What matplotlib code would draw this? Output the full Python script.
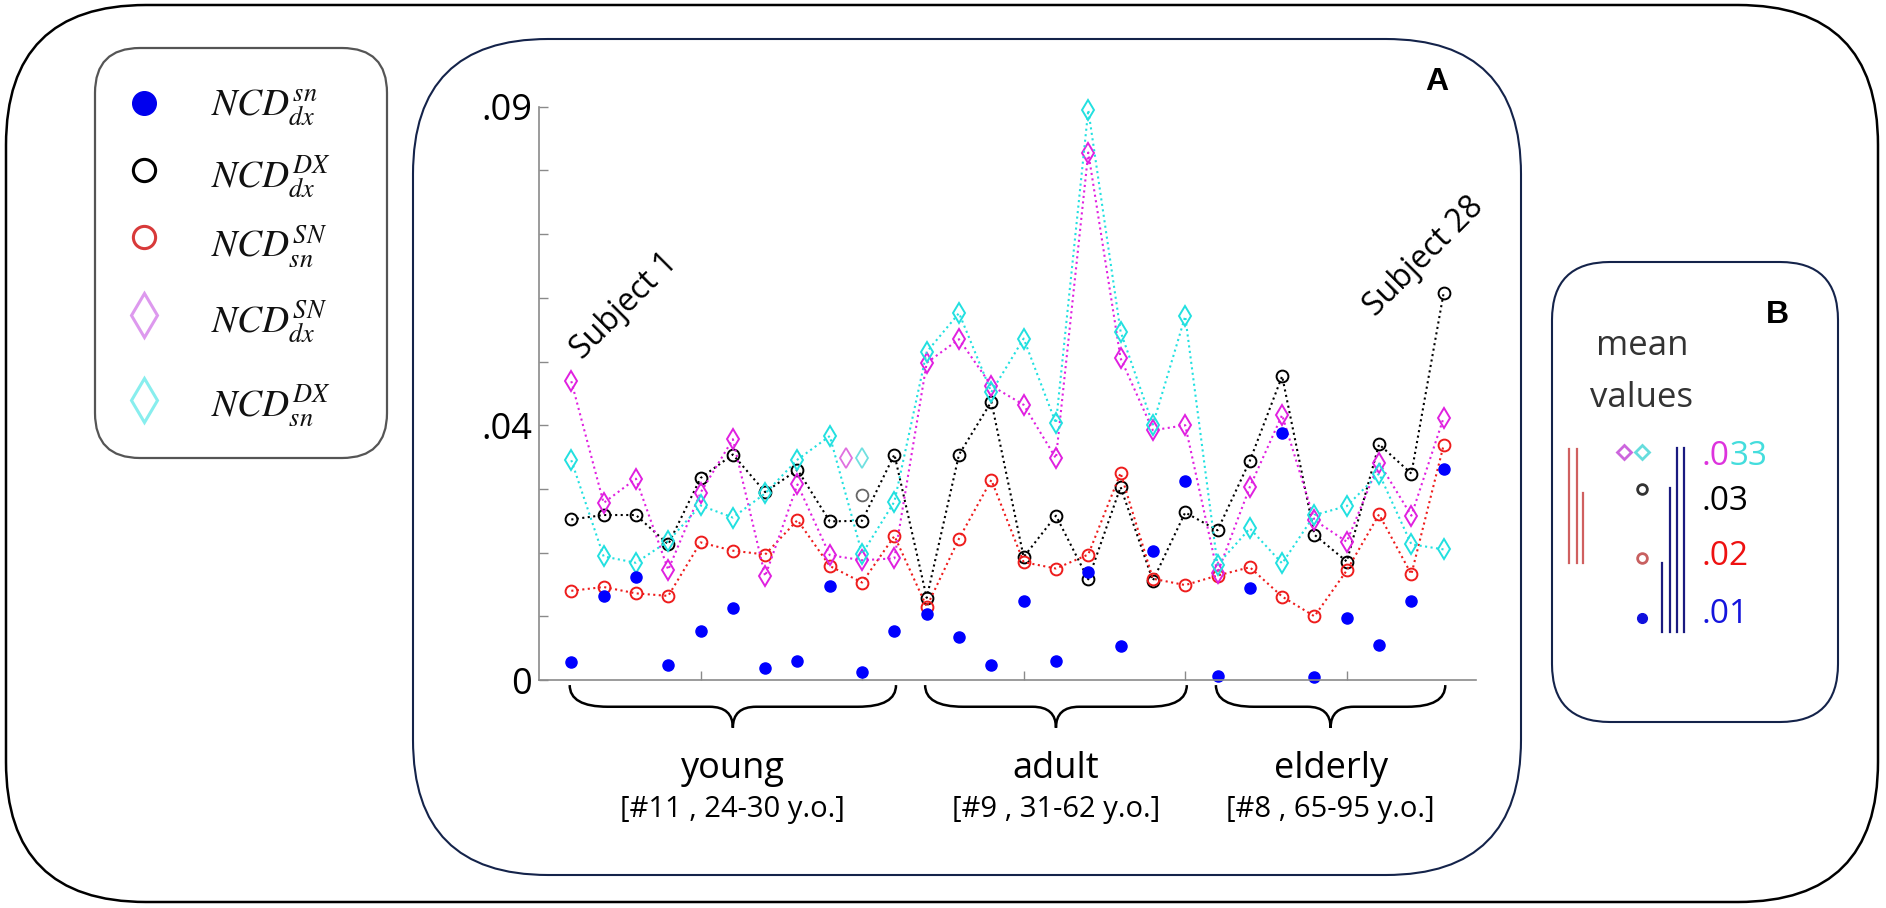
import numpy as np
import matplotlib
matplotlib.use('Agg')
import matplotlib.pyplot as plt
from matplotlib.patches import FancyBboxPatch, PathPatch
from matplotlib.path import Path

plt.rcParams['font.family'] = ['Open Sans', 'DejaVu Sans']
plt.rcParams['mathtext.fontset'] = 'stix'

# ---- data ----
subjects = np.arange(1, 29)
ncd_dx_sn = [.0029, .0132, .0161, .0023, .0077, .0113, .0019, .0030, .0147, .0013, .0077,
             .0104, .0068, .0024, .0124, .0030, .0169, .0054, .0203, .0313,
             .0007, .0144, .0388, .0004, .0097, .0055, .0124, .0332]
ncd_dx_DX = [.0252, .0259, .0259, .0213, .0317, .0354, .0295, .0330, .0249, .0250, .0354,
             .0129, .0354, .0437, .0193, .0258, .0158, .0303, .0156, .0263,
             .0235, .0344, .0477, .0228, .0186, .0370, .0324, .0608]
ncd_sn_SN = [.0140, .0146, .0136, .0132, .0216, .0203, .0197, .0251, .0179, .0153, .0226,
             .0115, .0222, .0314, .0185, .0175, .0197, .0325, .0159, .0149,
             .0164, .0177, .0131, .0100, .0172, .0260, .0166, .0369]
ncd_dx_SN = [.0469, .0278, .0316, .0173, .0294, .0378, .0163, .0307, .0196, .0188, .0191,
             .0498, .0535, .0462, .0432, .0348, .0828, .0505, .0392, .0400,
             .0168, .0303, .0416, .0251, .0217, .0341, .0258, .0412]
ncd_sn_DX = [.0345, .0194, .0184, .0218, .0274, .0255, .0293, .0346, .0383, .0198, .0280,
             .0515, .0576, .0452, .0536, .0403, .0895, .0547, .0401, .0571,
             .0181, .0238, .0183, .0259, .0273, .0324, .0213, .0205]

# stray markers near subject 10
stray_x = [9.5, 10, 10]
stray_y = [.0348, .0348, .0291]

groups = ['young', 'adult', 'elderly']
group_info = ['[#11 , 24-30 y.o.]', '[#9 , 31-62 y.o.]', '[#8 , 65-95 y.o.]']
group_first = [1, 12, 21]
group_last = [11, 20, 28]

legend_labels = [r'$NCD_{dx}^{sn}$', r'$NCD_{dx}^{DX}$', r'$NCD_{sn}^{SN}$',
                 r'$NCD_{dx}^{SN}$', r'$NCD_{sn}^{DX}$']

mean_labels = ['.03', '.02', '.01']
mean_colors = ['black', '#ee1111', '#1515dd']

# ---- figure ----
W, H = 1886, 908
fig = plt.figure(figsize=(W / 100, H / 100), dpi=100)
fig.patch.set_facecolor('white')

ov = fig.add_axes([0, 0, 1, 1], zorder=0)
ov.set_xlim(0, W)
ov.set_ylim(H, 0)
ov.axis('off')


def box(x0, y0, x1, y1, r, color, lw):
    ov.add_patch(FancyBboxPatch((x0, y0), x1 - x0, y1 - y0,
                                boxstyle='round,pad=0,rounding_size=%d' % r,
                                fc='none', ec=color, lw=lw))


box(6, 5, 1878, 902, 140, 'black', 1.8)        # outer frame
box(95, 48, 387, 458, 45, '#555555', 1.6)      # legend
box(413, 39, 1521, 875, 135, '#14234a', 1.5)   # panel A
box(1552, 262, 1838, 722, 58, '#14234a', 1.5)  # panel B

# legend
leg_y = [103, 170, 237, 315, 400]
leg_base = [116, 188, 257, 333, 417]
ov.plot(144, leg_y[0], 'o', ms=17, color='#0000ee', mec='#0000ee')
ov.plot(144, leg_y[1], 'o', ms=16, mfc='none', mec='black', mew=2.2)
ov.plot(144, leg_y[2], 'o', ms=16, mfc='none', mec='#d83a3a', mew=2.2)
ov.plot(144, leg_y[3], 'd', ms=22, mfc='none', mec='#dd99ee', mew=2.2)
ov.plot(144, leg_y[4], 'd', ms=22, mfc='none', mec='#88eeee', mew=2.2)
for lab, yb in zip(legend_labels, leg_base):
    ov.text(211, yb, lab, fontsize=27, color='#111111', ha='left', va='baseline')

# panel labels
ov.text(1437, 82, 'A', fontsize=23, fontweight='bold', family='Liberation Sans',
        ha='center', va='center')
ov.text(1777, 315, 'B', fontsize=23, fontweight='bold', family='Liberation Sans',
        ha='center', va='center')

# panel B content
ov.text(1642, 355, 'mean', fontsize=25, color='#333333', ha='center', va='baseline')
ov.text(1642, 407, 'values', fontsize=25, color='#333333', ha='center', va='baseline')
for xx, top in zip([1569, 1577, 1583], [449, 449, 493]):
    ov.plot([xx, xx], [563, top], color='#d06060', lw=1.6)
for xx, top in zip([1662, 1670, 1677, 1684], [563, 488, 448, 448]):
    ov.plot([xx, xx], [632, top], color='#1a1a80', lw=1.6)
ov.plot(1624, 452, 'D', ms=7.5, mfc='none', mec='#cc66dd', mew=2)
ov.plot(1642, 452, 'D', ms=7.5, mfc='none', mec='#66dddd', mew=2)
ov.plot(1642, 489, 'o', ms=7, mfc='none', mec='#333333', mew=2)
ov.plot(1642, 558, 'o', ms=7, mfc='none', mec='#c86060', mew=2)
ov.plot(1642, 618, 'o', ms=7, color='#1010dd')

t1 = ov.text(1702, 465, '.0', fontsize=24, color='#dd33dd', ha='left', va='baseline')
fig.canvas.draw()
bb = t1.get_window_extent()
ov.text(1702 + bb.width, 465, '33', fontsize=24, color='#44dddd', ha='left', va='baseline')
for lab, col, yb in zip(mean_labels, mean_colors, [510, 565, 623]):
    ov.text(1702, yb, lab, fontsize=24, color=col, ha='left', va='baseline')

# ---- main axes ----
ax = fig.add_axes([539 / W, 1 - 680 / H, (1476 - 539) / W, (680 - 106.7) / H], zorder=1)
ax.patch.set_alpha(0)

line_kw = dict(ls=':', lw=1.5, mfc='none', mew=1.4, clip_on=False)
ax.plot(subjects, ncd_dx_DX, marker='o', ms=8.5, color='black', **line_kw)
ax.plot(subjects, ncd_sn_SN, marker='o', ms=8.5, color='#ee1c1c', **line_kw)
ax.plot(subjects, ncd_dx_SN, marker='d', ms=10, color='#e020e0', **line_kw)
ax.plot(subjects, ncd_sn_DX, marker='d', ms=10, color='#22e0e0', **line_kw)
ax.plot(subjects, ncd_dx_sn, 'o', ms=8, color='#0000ff', clip_on=False)
ax.plot(stray_x[0], stray_y[0], 'd', ms=10, mfc='none', mec='#e070e0', mew=1.3)
ax.plot(stray_x[1], stray_y[1], 'd', ms=10, mfc='none', mec='#70e0e0', mew=1.3)
ax.plot(stray_x[2], stray_y[2], 'o', ms=8.5, mfc='none', mec='#666666', mew=1.3)

ax.set_xlim(0, 29)
ax.set_ylim(0, 0.09)
for s in ['top', 'right']:
    ax.spines[s].set_visible(False)
for s in ['left', 'bottom']:
    ax.spines[s].set_color('#8a8a8a')
    ax.spines[s].set_linewidth(1.2)
ax.set_xticks([5, 10, 15, 20, 25])
ax.set_xticklabels([])
yt = np.round(np.arange(0, 0.0901, 0.01), 2)
ax.set_yticks(yt)
ax.set_yticklabels(['0', '', '', '', '.04', '', '', '', '', '.09'])
ax.tick_params(direction='in', length=6.5, width=1, color='#8a8a8a', labelsize=26, pad=5)

ax.text(1.33, 0.0502, 'Subject 1', fontsize=23, rotation=45, rotation_mode='anchor',
        ha='left', va='baseline')
ax.text(25.9, 0.0570, 'Subject 28', fontsize=23, rotation=45, rotation_mode='anchor',
        ha='left', va='baseline')

# braces and group labels
yA, yB, yC = -0.0008, -0.0042, -0.0075
a, b = 1.18, 0.72
for g, info, f, l in zip(groups, group_info, group_first, group_last):
    x0, x1 = f - 0.05, l + 0.05
    xm = (x0 + x1) / 2
    verts = [(x0, yA), (x0, yB), (x0 + a, yB), (xm - b, yB), (xm, yB), (xm, yC),
             (xm, yB), (xm + b, yB), (x1 - a, yB), (x1, yB), (x1, yA)]
    codes = [Path.MOVETO, Path.CURVE3, Path.CURVE3, Path.LINETO, Path.CURVE3, Path.CURVE3,
             Path.CURVE3, Path.CURVE3, Path.LINETO, Path.CURVE3, Path.CURVE3]
    ax.add_patch(PathPatch(Path(verts, codes), fc='none', ec='black', lw=1.8, clip_on=False))
    ax.text(xm, -0.0154, g, fontsize=26, ha='center', va='baseline')
    ax.text(xm, -0.0215, info, fontsize=21, ha='center', va='baseline')

fig.savefig('out.png', dpi=100)
